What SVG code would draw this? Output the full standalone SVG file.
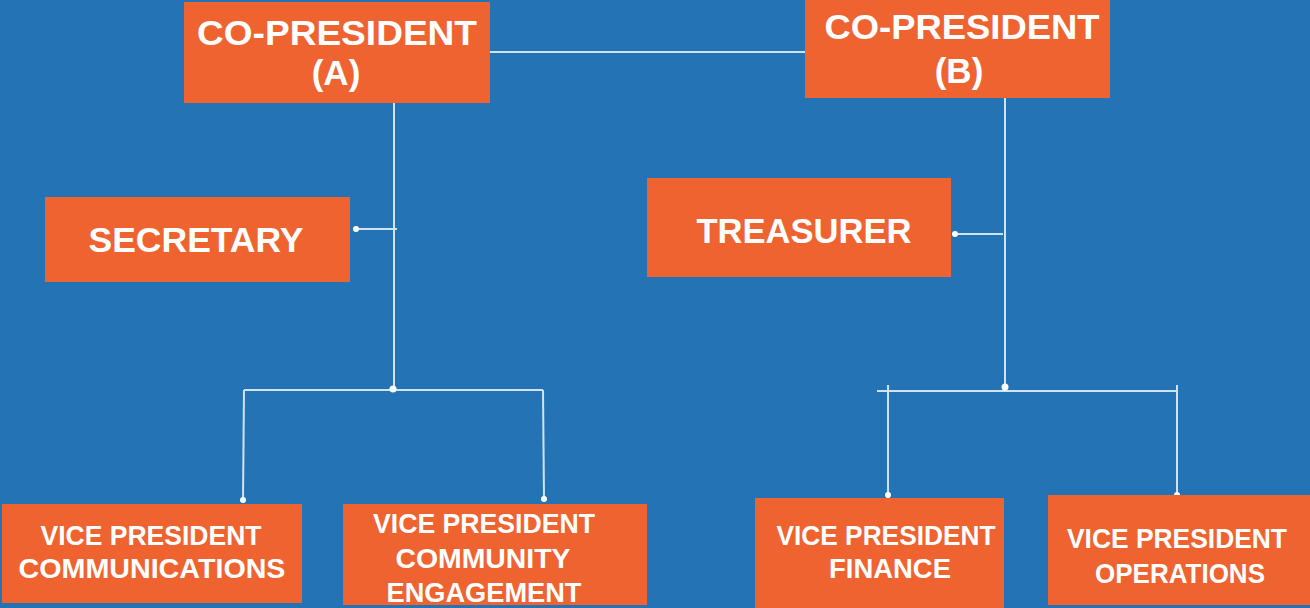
<svg xmlns="http://www.w3.org/2000/svg" width="1310" height="608" viewBox="0 0 1310 608">
<style>
.box{fill:#EF6330}
.t{font-family:"Liberation Sans",Arial,sans-serif;font-weight:700;fill:#FFFFFF;text-anchor:middle}
.big{font-size:35px}
.sm{font-size:28px}
.ln{stroke:#CFE3F4;stroke-width:2;fill:none}
.dot{fill:#FFFFFF}
</style>
<rect width="1310" height="608" fill="#2474B5"/>
<g id="connectors">
<line class="ln" x1="490" y1="52" x2="805" y2="52"/>
<line class="ln" x1="394" y1="103" x2="394" y2="389"/>
<line class="ln" x1="356" y1="229" x2="397" y2="229"/>
<line class="ln" x1="244" y1="390" x2="543" y2="390"/>
<line class="ln" x1="244" y1="390" x2="243" y2="500"/>
<line class="ln" x1="543" y1="390" x2="544" y2="499"/>
<line class="ln" x1="1005" y1="98" x2="1005" y2="388"/>
<line class="ln" x1="955" y1="234" x2="1003" y2="234"/>
<line class="ln" x1="877" y1="391" x2="1177" y2="391"/>
<line class="ln" x1="888" y1="385" x2="888" y2="495"/>
<line class="ln" x1="1177" y1="385" x2="1177" y2="495"/>
<circle class="dot" cx="356" cy="229" r="3"/>
<circle class="dot" cx="393" cy="389" r="3.5"/>
<circle class="dot" cx="243" cy="500" r="3"/>
<circle class="dot" cx="544" cy="499" r="3"/>
<circle class="dot" cx="955" cy="234" r="3"/>
<circle class="dot" cx="1005" cy="387" r="3.5"/>
<circle class="dot" cx="888" cy="495" r="3"/>
<circle class="dot" cx="1177" cy="495" r="3"/>
</g>
<g id="copresident-a">
<rect class="box" x="184" y="2" width="306" height="101"/>
<text class="t big" x="337" y="45" textLength="280" lengthAdjust="spacingAndGlyphs">CO-PRESIDENT</text>
<text class="t big" x="336" y="85">(A)</text>
</g>
<g id="copresident-b">
<rect class="box" x="805" y="0" width="305" height="98"/>
<text class="t big" x="962" y="39" textLength="275" lengthAdjust="spacingAndGlyphs">CO-PRESIDENT</text>
<text class="t big" x="959" y="83">(B)</text>
</g>
<g id="secretary">
<rect class="box" x="45" y="197" width="305" height="85"/>
<text class="t big" x="196" y="252" textLength="215" lengthAdjust="spacingAndGlyphs">SECRETARY</text>
</g>
<g id="treasurer">
<rect class="box" x="647" y="178" width="304" height="99"/>
<text class="t big" x="804" y="243" textLength="215" lengthAdjust="spacingAndGlyphs">TREASURER</text>
</g>
<g id="vp-communications">
<rect class="box" x="2" y="504" width="300" height="99"/>
<text class="t sm" x="151" y="545" textLength="221" lengthAdjust="spacingAndGlyphs">VICE PRESIDENT</text>
<text class="t sm" x="152" y="578" textLength="267" lengthAdjust="spacingAndGlyphs">COMMUNICATIONS</text>
</g>
<g id="vp-community">
<rect class="box" x="343" y="504" width="304" height="101"/>
<text class="t sm" x="484" y="533" textLength="222" lengthAdjust="spacingAndGlyphs">VICE PRESIDENT</text>
<text class="t sm" x="483" y="568" textLength="175" lengthAdjust="spacingAndGlyphs">COMMUNITY</text>
<text class="t sm" x="484" y="602" textLength="195" lengthAdjust="spacingAndGlyphs">ENGAGEMENT</text>
</g>
<g id="vp-finance">
<rect class="box" x="755" y="498" width="249" height="110"/>
<text class="t sm" x="886" y="545" textLength="219" lengthAdjust="spacingAndGlyphs">VICE PRESIDENT</text>
<text class="t sm" x="890" y="578" textLength="122" lengthAdjust="spacingAndGlyphs">FINANCE</text>
</g>
<g id="vp-operations">
<rect class="box" x="1048" y="495" width="262" height="110"/>
<text class="t sm" x="1177" y="548" textLength="220" lengthAdjust="spacingAndGlyphs">VICE PRESIDENT</text>
<text class="t sm" x="1180" y="583" textLength="170" lengthAdjust="spacingAndGlyphs">OPERATIONS</text>
</g>
</svg>
